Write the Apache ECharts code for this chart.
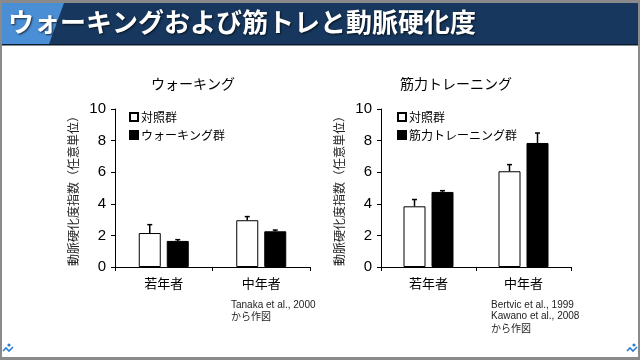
<!DOCTYPE html>
<html>
<head>
<meta charset="utf-8">
<script src="https://cdn.jsdelivr.net/npm/echarts@6/dist/echarts.min.js"></script>
<style>
html,body{margin:0;padding:0;background:#fff;}
#c{width:640px;height:360px;}
</style>
</head>
<body>
<div id="c"></div>
<script>
// ---- data ----
const pageTitle = 'ウォーキングおよび筋トレと動脈硬化度';
const categories = ['若年者', '中年者'];
const yTicks = [0, 2, 4, 6, 8, 10];

const walkTitle = 'ウォーキング';
const walkControl = [2.15, 2.96];
const walkControlErr = [0.53, 0.23];
const walkGroup = [1.65, 2.26];
const walkGroupErr = [0.08, 0.08];

const trainTitle = '筋力トレーニング';
const trainControl = [3.84, 6.06];
const trainControlErr = [0.43, 0.42];
const trainGroup = [4.75, 7.85];
const trainGroupErr = [0.08, 0.63];

const controlName = '対照群';
const walkName = 'ウォーキング群';
const trainName = '筋力トレーニング群';
const yName = '動脈硬化度指数（任意単位）';
const walkSource = ['Tanaka et al., 2000', 'から作図'];
const trainSource = ['Bertvic et al., 1999', 'Kawano et al., 2008', 'から作図'];

// ---- chart ----
const JP = '"Noto Sans CJK JP", sans-serif';
const AR = '"Liberation Sans", Arial, sans-serif';
const BW = 22, GAP = 6;
const OFF = (BW + GAP) / 2;

function errSeries(idx, vals, errs, dir) {
  return {
    type: 'custom', xAxisIndex: idx, yAxisIndex: idx, z: 5, silent: true,
    data: vals.map((v, i) => [i, v, errs[i]]),
    renderItem: function (params, api) {
      const i = api.value(0), v = api.value(1), e = api.value(2);
      const p0 = api.coord([i, v]);
      const p1 = api.coord([i, v + e]);
      const x = p0[0] + dir * OFF;
      return {
        type: 'group',
        children: [
          {type: 'line', shape: {x1: x, y1: p0[1], x2: x, y2: p1[1]}, style: {stroke: '#000', lineWidth: 1.5}},
          {type: 'line', shape: {x1: x - 2.5, y1: p1[1], x2: x + 2.5, y2: p1[1]}, style: {stroke: '#000', lineWidth: 1.5}}
        ]
      };
    }
  };
}

function xAxis(idx) {
  return {
    type: 'category', gridIndex: idx, data: categories,
    axisLine: {lineStyle: {color: '#000', width: 1}},
    axisTick: {show: true, length: 4, lineStyle: {color: '#000'}},
    axisLabel: {color: '#000', fontFamily: JP, fontSize: 13, margin: 10}
  };
}
function yAxis(idx) {
  return {
    type: 'value', gridIndex: idx, min: yTicks[0], max: yTicks[yTicks.length - 1], interval: 2,
    name: yName, nameLocation: 'middle', nameRotate: 90, nameGap: 36,
    nameTextStyle: {color: '#222', fontFamily: JP, fontSize: 12},
    axisLine: {show: true, lineStyle: {color: '#000', width: 1}},
    axisTick: {show: true, length: 4, lineStyle: {color: '#000'}},
    splitLine: {show: false},
    axisLabel: {color: '#000', fontFamily: AR, fontSize: 15, margin: 9}
  };
}
const whiteBar = {color: '#fff', borderColor: '#000', borderWidth: 1};
const blackBar = {color: '#000', borderColor: '#000', borderWidth: 1};

function sourceText(lines, x, y) {
  return lines.map((t, k) => ({
    type: 'text', left: x, top: y + k * 11.5,
    style: {text: t, fill: '#222', font: '10px ' + (/[^\x00-\x7f]/.test(t) ? JP : AR)}
  }));
}

const option = {
  animation: false,
  backgroundColor: '#fff',
  title: [
    {text: walkTitle, left: 188, top: 72, textAlign: 'center',
     textStyle: {fontFamily: JP, fontSize: 14, fontWeight: 'normal', color: '#000'}},
    {text: trainTitle, left: 451, top: 72, textAlign: 'center',
     textStyle: {fontFamily: JP, fontSize: 14, fontWeight: 'normal', color: '#000'}}
  ],
  legend: [
    {orient: 'vertical', left: 124, top: 106, itemWidth: 8, itemHeight: 8, itemGap: 6,
     data: [controlName, walkName], icon: 'rect',
     textStyle: {fontFamily: JP, fontSize: 12, color: '#000', padding: [0, 0, 0, -2]}},
    {orient: 'vertical', left: 392, top: 106, itemWidth: 8, itemHeight: 8, itemGap: 6,
     data: [controlName, trainName], icon: 'rect',
     textStyle: {fontFamily: JP, fontSize: 12, color: '#000', padding: [0, 0, 0, -2]}}
  ],
  grid: [
    {left: 115, width: 195, top: 109, height: 158},
    {left: 381, width: 190, top: 109, height: 158}
  ],
  xAxis: [xAxis(0), xAxis(1)],
  yAxis: [yAxis(0), yAxis(1)],
  series: [
    {name: controlName, type: 'bar', xAxisIndex: 0, yAxisIndex: 0, data: walkControl,
     barWidth: BW, barGap: (GAP / BW * 100) + '%', itemStyle: whiteBar},
    {name: walkName, type: 'bar', xAxisIndex: 0, yAxisIndex: 0, data: walkGroup,
     barWidth: BW, barGap: (GAP / BW * 100) + '%', itemStyle: blackBar},
    {name: controlName, type: 'bar', xAxisIndex: 1, yAxisIndex: 1, data: trainControl,
     barWidth: BW, barGap: (GAP / BW * 100) + '%', itemStyle: whiteBar},
    {name: trainName, type: 'bar', xAxisIndex: 1, yAxisIndex: 1, data: trainGroup,
     barWidth: BW, barGap: (GAP / BW * 100) + '%', itemStyle: blackBar},
    errSeries(0, walkControl, walkControlErr, -1),
    errSeries(0, walkGroup, walkGroupErr, 1),
    errSeries(1, trainControl, trainControlErr, -1),
    errSeries(1, trainGroup, trainGroupErr, 1)
  ],
  graphic: [
    // frame
    {type: 'rect', left: 0, top: 0, shape: {width: 640, height: 3}, style: {fill: '#8a8a8a'}, z: 10},
    {type: 'rect', left: 0, top: 357, shape: {width: 640, height: 3}, style: {fill: '#8a8a8a'}, z: 10},
    {type: 'rect', left: 0, top: 0, shape: {width: 2, height: 360}, style: {fill: '#8a8a8a'}, z: 10},
    {type: 'rect', left: 638, top: 0, shape: {width: 2, height: 360}, style: {fill: '#8a8a8a'}, z: 10},
    // header band
    {type: 'rect', left: 2, top: 3, shape: {width: 636, height: 41}, style: {fill: '#17375e'}, z: 1},
    {type: 'polygon', shape: {points: [[2, 3], [64, 3], [49, 44], [2, 44]]}, style: {fill: '#4a8fd6'}, z: 2},
    {type: 'rect', left: 2, top: 44, shape: {width: 636, height: 1.5}, style: {fill: '#0b1a2c'}, z: 2},
    {type: 'text', left: 8, top: 9, z: 3,
     style: {text: pageTitle, fill: '#fff', font: 'bold 26px ' + JP,
             textShadowColor: 'rgba(0,0,0,0.7)', textShadowBlur: 2, textShadowOffsetX: 1, textShadowOffsetY: 1}},
    // corner marks
    {type: 'circle', shape: {cx: 9, cy: 345, r: 1.6}, style: {fill: '#2a7fd0'}, z: 3},
    {type: 'polyline', shape: {points: [[3, 351], [6, 348], [9, 351], [13, 347]]}, style: {stroke: '#2a7fd0', lineWidth: 1.6, fill: null}, z: 3},
    {type: 'circle', shape: {cx: 634, cy: 345, r: 1.6}, style: {fill: '#2a7fd0'}, z: 3},
    {type: 'polyline', shape: {points: [[627, 351], [630, 348], [633, 351], [637, 347]]}, style: {stroke: '#2a7fd0', lineWidth: 1.6, fill: null}, z: 3}
  ].concat(sourceText(walkSource, 231, 300), sourceText(trainSource, 491, 300))
};

const chart = echarts.init(document.getElementById('c'), null, {renderer: 'canvas'});
chart.setOption(option);
</script>
</body>
</html>
